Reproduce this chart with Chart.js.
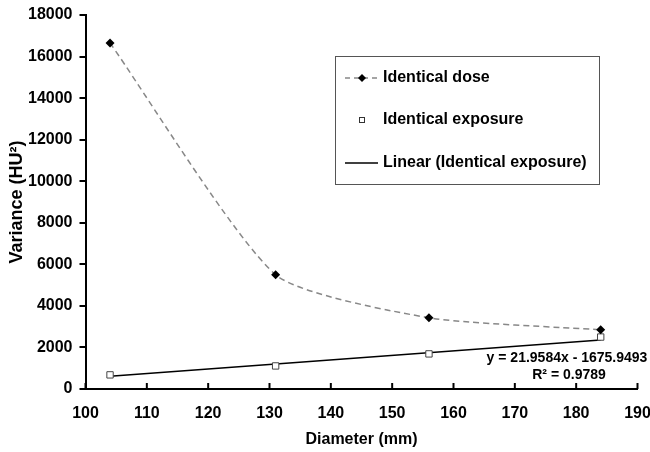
<!DOCTYPE html>
<html>
<head>
<meta charset="utf-8">
<script src="https://cdn.jsdelivr.net/npm/chart.js@4"></script>
<style>
  html, body { margin: 0; padding: 0; background: #fff; }
  #wrap { width: 650px; height: 452px; }
</style>
</head>
<body>
<div id="wrap"><canvas id="chart" width="650" height="452"></canvas></div>
<script>
// ---- data ----
const doseX = [104, 131, 156, 184];
const doseY = [16650, 5500, 3430, 2850];

const exposureX = [104, 131, 156, 184];
const exposureY = [680, 1110, 1690, 2500];

// trend line ends (from the fitted line shown on the chart)
const trendX = [104, 184];
const trendY = [608, 2364];

const xTicks = [100, 110, 120, 130, 140, 150, 160, 170, 180, 190];
const yTicks = [0, 2000, 4000, 6000, 8000, 10000, 12000, 14000, 16000, 18000];

const eqText = "y = 21.9584x - 1675.9493";
const r2Text = "R\u00b2 = 0.9789";

const FONT = "'Liberation Sans', Arial, sans-serif";

const toPts = (xs, ys) => xs.map((x, i) => ({ x: x, y: ys[i] }));

// inward x ticks, legend box and equation text
const extras = {
  id: "extras",
  afterDraw(chart) {
    const ctx = chart.ctx;
    const xs = chart.scales.x;
    const ys = chart.scales.y;
    const base = ys.getPixelForValue(0);

    ctx.save();
    ctx.strokeStyle = "#000";
    ctx.lineWidth = 2;
    xTicks.forEach(v => {
      const px = xs.getPixelForValue(v);
      ctx.beginPath();
      ctx.moveTo(px, base);
      ctx.lineTo(px, base - 6);
      ctx.stroke();
    });

    // legend
    ctx.lineWidth = 1;
    ctx.strokeStyle = "#555";
    ctx.strokeRect(335.5, 56.5, 264, 128);

    ctx.font = "bold 16px " + FONT;
    ctx.fillStyle = "#000";
    ctx.textBaseline = "middle";
    ctx.textAlign = "left";

    // dose entry
    ctx.strokeStyle = "#888";
    ctx.lineWidth = 1.5;
    ctx.setLineDash([5, 4]);
    ctx.beginPath();
    ctx.moveTo(345, 78);
    ctx.lineTo(378, 78);
    ctx.stroke();
    ctx.setLineDash([]);
    ctx.fillStyle = "#000";
    ctx.beginPath();
    ctx.moveTo(362, 74);
    ctx.lineTo(366, 78);
    ctx.lineTo(362, 82);
    ctx.lineTo(358, 78);
    ctx.closePath();
    ctx.fill();
    ctx.fillText("Identical dose", 383, 78);

    // exposure entry
    ctx.fillStyle = "#fff";
    ctx.fillRect(359, 117, 6, 6);
    ctx.strokeStyle = "#333";
    ctx.lineWidth = 1;
    ctx.strokeRect(359.5, 117.5, 5, 5);
    ctx.fillStyle = "#000";
    ctx.fillText("Identical exposure", 383, 120);

    // linear entry
    ctx.strokeStyle = "#000";
    ctx.lineWidth = 1.5;
    ctx.beginPath();
    ctx.moveTo(345, 163);
    ctx.lineTo(378, 163);
    ctx.stroke();
    ctx.fillText("Linear (Identical exposure)", 383, 163);

    // equation
    ctx.font = "bold 14px " + FONT;
    ctx.textAlign = "center";
    ctx.fillText(eqText, 567, 358);
    ctx.fillText(r2Text, 569, 375);
    ctx.restore();
  }
};

new Chart(document.getElementById("chart"), {
  type: "scatter",
  data: {
    datasets: [
      {
        label: "Identical dose",
        data: toPts(doseX, doseY),
        showLine: true,
        borderColor: "#888",
        borderWidth: 1.5,
        borderDash: [6, 4],
        tension: 0.2,
        pointStyle: "rectRot",
        pointRadius: 4.5,
        pointBackgroundColor: "#000",
        pointBorderColor: "#000",
        pointBorderWidth: 0
      },
      {
        label: "Identical exposure",
        data: toPts(exposureX, exposureY),
        showLine: false,
        pointStyle: "rect",
        pointRadius: 4.5,
        pointBackgroundColor: "#fff",
        pointBorderColor: "#444",
        pointBorderWidth: 1
      },
      {
        label: "Linear (Identical exposure)",
        data: toPts(trendX, trendY),
        showLine: true,
        borderColor: "#000",
        borderWidth: 1.5,
        pointRadius: 0
      }
    ]
  },
  options: {
    responsive: false,
    animation: false,
    layout: { padding: { top: 15, right: 12.5, left: 0, bottom: 3 } },
    plugins: {
      legend: { display: false },
      tooltip: { enabled: false }
    },
    scales: {
      x: {
        type: "linear",
        min: 100,
        max: 190,
        afterFit: s => { s.height = 60; s.paddingLeft = 0; s.paddingRight = 0; },
        afterBuildTicks: s => { s.ticks = xTicks.map(v => ({ value: v })); },
        grid: { display: true, drawOnChartArea: false, drawTicks: false },
        border: { color: "#000", width: 2 },
        ticks: {
          color: "#000",
          padding: 15,
          maxRotation: 0,
          callback: v => String(v),
          font: { family: FONT, size: 16, weight: "bold" }
        },
        title: {
          display: true,
          text: "Diameter (mm)",
          color: "#000",
          padding: { top: 0, bottom: 0 },
          font: { family: FONT, size: 16, weight: "bold" }
        }
      },
      y: {
        type: "linear",
        min: 0,
        max: 18000,
        afterFit: s => { s.width = 85.5; s.paddingTop = 0; s.paddingBottom = 0; },
        afterBuildTicks: s => { s.ticks = yTicks.map(v => ({ value: v })); },
        grid: { display: true, drawOnChartArea: false, drawTicks: true, tickLength: 6, color: "#000", lineWidth: 2 },
        border: { color: "#000", width: 2 },
        ticks: {
          color: "#000",
          padding: 7,
          callback: v => String(v),
          font: { family: FONT, size: 16, weight: "bold" }
        },
        title: {
          display: true,
          text: "Variance (HU\u00b2)",
          color: "#000",
          padding: { top: 6, bottom: 0 },
          font: { family: FONT, size: 18, weight: "bold" }
        }
      }
    }
  },
  plugins: [extras]
});
</script>
</body>
</html>
